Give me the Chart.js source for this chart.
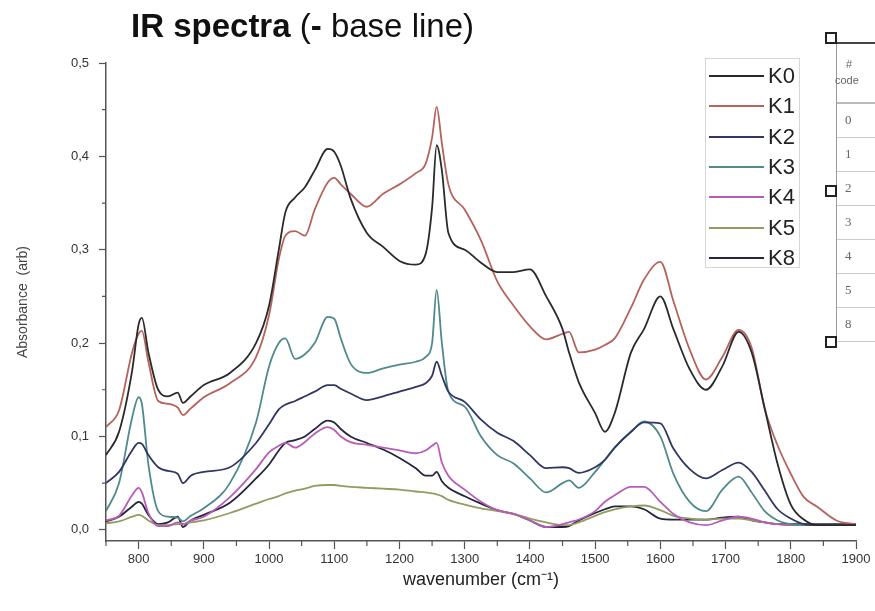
<!DOCTYPE html>
<html>
<head>
<meta charset="utf-8">
<script src="https://cdn.jsdelivr.net/npm/chart.js@4.4.1/dist/chart.umd.min.js"></script>
<style>
  body { margin: 0; background: #fff; }
  #wrap { position: relative; width: 875px; height: 611px; overflow: hidden; font-family: "Liberation Sans", Arial, sans-serif; }
  #chart { position: absolute; left: 0; top: 0; }
  #title { position: absolute; left: 131px; top: 7px; font-size: 33px; color: #111; white-space: nowrap; }
  #title b { font-weight: bold; }
  #legend { position: absolute; left: 705px; top: 58px; width: 95px; height: 210px; border: 1px solid #d6d6d6; box-sizing: border-box; }
  .item { position: absolute; left: 2px; height: 30px; width: 92px; }
  .item .swatch { position: absolute; left: 1px; top: 14px; width: 55px; height: 2px; }
  .item .lbl { position: absolute; left: 60px; top: 1px; font-size: 22px; color: #222; line-height: 28px; }
  #table { position: absolute; left: 836px; top: 42px; width: 60px; height: 300px; border-left: 1px solid #999; }
  #table .top { position: absolute; left: 0; top: 0; width: 60px; border-top: 2px solid #444; }
  #table .row { position: absolute; left: 0; width: 60px; border-bottom: 1px solid #ccc; color: #666; font-family: "Liberation Serif", serif; font-size: 13px; }
  #table .row span { position: absolute; left: 8px; }
  .handle { position: absolute; width: 8px; height: 8px; border: 2px solid #222; background: #fff; }
</style>
</head>
<body>
<div id="wrap">
  <canvas id="chart" width="875" height="611"></canvas>
  <div id="title"><b>IR spectra</b> (<b>-</b> base line)</div>
  <div id="legend"></div>
  <div id="table"></div>
</div>
<script>
// ---------------------------------------------------------
// Data (absorbance vs wavenumber)
// ---------------------------------------------------------
const wavenumbers = [750, 770, 790, 800, 805, 815, 830, 845, 860, 868, 880, 900, 940, 980, 1000, 1015, 1025, 1040, 1055, 1070, 1090, 1100, 1110, 1125, 1150, 1175, 1200, 1225, 1240, 1250, 1257, 1265, 1275, 1300, 1325, 1350, 1375, 1400, 1425, 1450, 1460, 1475, 1500, 1515, 1530, 1555, 1575, 1600, 1620, 1645, 1670, 1695, 1720, 1740, 1760, 1780, 1800, 1820, 1840, 1870, 1900];

const k0 = [0.080, 0.105, 0.170, 0.220, 0.227, 0.190, 0.150, 0.143, 0.147, 0.136, 0.143, 0.155, 0.168, 0.200, 0.240, 0.300, 0.340, 0.356, 0.367, 0.385, 0.408, 0.405, 0.390, 0.355, 0.318, 0.303, 0.288, 0.284, 0.295, 0.345, 0.412, 0.385, 0.318, 0.300, 0.286, 0.276, 0.276, 0.279, 0.250, 0.215, 0.190, 0.158, 0.125, 0.105, 0.125, 0.190, 0.215, 0.250, 0.215, 0.172, 0.150, 0.175, 0.212, 0.190, 0.130, 0.070, 0.027, 0.011, 0.005, 0.005, 0.005];
const k1 = [0.110, 0.128, 0.190, 0.210, 0.213, 0.180, 0.138, 0.135, 0.131, 0.123, 0.130, 0.142, 0.157, 0.185, 0.230, 0.290, 0.315, 0.320, 0.315, 0.343, 0.372, 0.377, 0.370, 0.360, 0.346, 0.360, 0.370, 0.382, 0.392, 0.420, 0.453, 0.414, 0.370, 0.343, 0.310, 0.266, 0.240, 0.218, 0.204, 0.210, 0.212, 0.190, 0.193, 0.198, 0.205, 0.238, 0.268, 0.287, 0.245, 0.193, 0.161, 0.185, 0.214, 0.195, 0.130, 0.090, 0.060, 0.035, 0.025, 0.010, 0.006];
const k2 = [0.050, 0.062, 0.085, 0.093, 0.092, 0.080, 0.067, 0.063, 0.060, 0.050, 0.058, 0.062, 0.067, 0.093, 0.113, 0.129, 0.134, 0.138, 0.143, 0.148, 0.155, 0.155, 0.151, 0.146, 0.139, 0.143, 0.148, 0.153, 0.157, 0.165, 0.180, 0.165, 0.148, 0.137, 0.118, 0.104, 0.095, 0.080, 0.066, 0.067, 0.066, 0.061, 0.067, 0.075, 0.088, 0.105, 0.115, 0.114, 0.087, 0.065, 0.055, 0.064, 0.072, 0.062, 0.042, 0.022, 0.012, 0.006, 0.005, 0.005, 0.005];
const k3 = [0.020, 0.050, 0.120, 0.142, 0.135, 0.070, 0.020, 0.014, 0.013, 0.009, 0.015, 0.023, 0.050, 0.115, 0.175, 0.200, 0.205, 0.183, 0.188, 0.200, 0.228, 0.226, 0.205, 0.178, 0.168, 0.173, 0.177, 0.180, 0.185, 0.200, 0.257, 0.200, 0.148, 0.132, 0.100, 0.080, 0.071, 0.055, 0.040, 0.050, 0.053, 0.045, 0.062, 0.075, 0.088, 0.105, 0.116, 0.100, 0.060, 0.030, 0.020, 0.043, 0.057, 0.040, 0.020, 0.010, 0.006, 0.005, 0.005, 0.005, 0.005];
const k4 = [0.010, 0.015, 0.037, 0.045, 0.040, 0.018, 0.004, 0.004, 0.008, 0.006, 0.010, 0.014, 0.035, 0.065, 0.083, 0.090, 0.093, 0.088, 0.094, 0.103, 0.110, 0.107, 0.100, 0.094, 0.091, 0.088, 0.085, 0.082, 0.085, 0.090, 0.093, 0.072, 0.058, 0.043, 0.030, 0.021, 0.017, 0.010, 0.003, 0.006, 0.008, 0.011, 0.020, 0.030, 0.037, 0.046, 0.046, 0.030, 0.017, 0.008, 0.005, 0.010, 0.014, 0.012, 0.008, 0.006, 0.005, 0.005, 0.005, 0.005, 0.006];
const k5 = [0.007, 0.009, 0.014, 0.016, 0.015, 0.010, 0.005, 0.005, 0.006, 0.006, 0.008, 0.010, 0.018, 0.028, 0.033, 0.036, 0.039, 0.042, 0.044, 0.047, 0.048, 0.048, 0.047, 0.046, 0.045, 0.044, 0.043, 0.041, 0.040, 0.039, 0.038, 0.036, 0.032, 0.027, 0.023, 0.020, 0.017, 0.012, 0.008, 0.005, 0.005, 0.008, 0.015, 0.019, 0.022, 0.025, 0.026, 0.021, 0.015, 0.012, 0.011, 0.012, 0.012, 0.010, 0.008, 0.006, 0.005, 0.005, 0.005, 0.005, 0.005];
const k8 = [0.009, 0.014, 0.025, 0.030, 0.028, 0.016, 0.006, 0.008, 0.014, 0.003, 0.010, 0.016, 0.029, 0.055, 0.070, 0.085, 0.093, 0.096, 0.100, 0.108, 0.117, 0.115, 0.108, 0.100, 0.093, 0.086, 0.077, 0.066, 0.058, 0.058, 0.062, 0.052, 0.045, 0.036, 0.028, 0.021, 0.017, 0.010, 0.003, 0.003, 0.004, 0.010, 0.018, 0.022, 0.025, 0.025, 0.022, 0.012, 0.011, 0.011, 0.011, 0.013, 0.014, 0.010, 0.008, 0.006, 0.006, 0.006, 0.006, 0.006, 0.006];

const seriesNames = ["K0", "K1", "K2", "K3", "K4", "K5", "K8"];
const seriesValues = [k0, k1, k2, k3, k4, k5, k8];
const seriesColors = ["#2a2a2a", "#b5635c", "#313663", "#4f8a8c", "#b85cba", "#939c60", "#25253c"];

const xTicks = [800, 900, 1000, 1100, 1200, 1300, 1400, 1500, 1600, 1700, 1800, 1900];
const xMinorTicks = [750, 850, 950, 1050, 1150, 1250, 1350, 1450, 1550, 1650, 1750, 1850];
const yTicks = [0, 0.1, 0.2, 0.3, 0.4, 0.5];
const yMinorTicks = [0.05, 0.15, 0.25, 0.35, 0.45];

// table fragment on the right of the slide
const tableCodes = ["0", "1", "2", "3", "4", "5", "8"];

// ---------------------------------------------------------
// Minor ticks (shorter, no labels)
// ---------------------------------------------------------
const minorTicks = {
  id: "minorTicks",
  afterDraw(chart) {
    const { ctx, chartArea, scales } = chart;
    ctx.save();
    ctx.strokeStyle = "#555";
    ctx.lineWidth = 1.2;
    ctx.beginPath();
    xMinorTicks.forEach(v => {
      const px = scales.x.getPixelForValue(v);
      ctx.moveTo(px, chartArea.bottom);
      ctx.lineTo(px, chartArea.bottom + 5);
    });
    yMinorTicks.forEach(v => {
      const py = scales.y.getPixelForValue(v);
      ctx.moveTo(chartArea.left, py);
      ctx.lineTo(chartArea.left - 4, py);
    });
    ctx.stroke();
    ctx.restore();
  }
};

const datasets = seriesNames.map((name, i) => ({
  label: name,
  data: wavenumbers.map((w, j) => ({ x: w, y: seriesValues[i][j] })),
  borderColor: seriesColors[i],
  borderWidth: 1.8,
  pointRadius: 0,
  cubicInterpolationMode: "monotone",
  fill: false
}));

new Chart(document.getElementById("chart"), {
  type: "line",
  data: { datasets },
  options: {
    responsive: false,
    animation: false,
    layout: { padding: { top: 63, right: 19, left: 0, bottom: 0 } },
    plugins: { legend: { display: false }, tooltip: { enabled: false } },
    scales: {
      x: {
        type: "linear",
        min: 750,
        max: 1900,
        afterFit: s => { s.height = 70; },
        afterBuildTicks: s => { s.ticks = xTicks.map(v => ({ value: v })); },
        grid: { drawOnChartArea: false, drawTicks: true, tickLength: 8, color: "#555", tickWidth: 1.2 },
        border: { display: true, color: "#555", width: 1.5 },
        ticks: {
          color: "#333",
          padding: 3,
          maxRotation: 0,
          font: { family: "'Liberation Sans Narrow', 'Arial Narrow', 'Liberation Sans', sans-serif", size: 13 },
          callback: v => String(v)
        },
        title: {
          display: true,
          text: "wavenumber (cm\u207B\u00B9)",
          color: "#222",
          padding: { top: 0, bottom: 20 },
          font: { family: "'Liberation Sans Narrow', 'Liberation Sans', sans-serif", size: 18 }
        }
      },
      y: {
        min: -0.012,
        max: 0.5,
        afterFit: s => { s.width = 106; },
        afterBuildTicks: s => { s.ticks = yTicks.map(v => ({ value: v })); },
        grid: { drawOnChartArea: false, drawTicks: true, tickLength: 7, color: "#555", tickWidth: 1.2 },
        border: { display: true, color: "#555", width: 1.5 },
        ticks: {
          color: "#333",
          padding: 10,
          font: { family: "'Liberation Sans', sans-serif", size: 13 },
          callback: v => v.toFixed(1).replace(".", ",")
        },
        title: {
          display: true,
          text: "Absorbance  (arb)",
          color: "#444",
          padding: { top: 15 },
          font: { family: "'Liberation Sans', sans-serif", size: 14 }
        }
      }
    }
  },
  plugins: [minorTicks]
});

// ---------------------------------------------------------
// Legend (inside the plot, top right)
// ---------------------------------------------------------
const legendBox = document.getElementById("legend");
seriesNames.forEach((name, i) => {
  const item = document.createElement("div");
  item.className = "item";
  item.style.top = (2 + i * 30.3) + "px";
  item.innerHTML = `<div class="swatch" style="background:${seriesColors[i]}"></div><div class="lbl">${name}</div>`;
  legendBox.appendChild(item);
});

// ---------------------------------------------------------
// Clipped table on the right edge
// ---------------------------------------------------------
const table = document.getElementById("table");
table.insertAdjacentHTML("beforeend", `<div class="top"></div>`);
table.insertAdjacentHTML("beforeend",
  `<div class="row" style="top:2px;height:58px;border-bottom:2px solid #bbb;font-family:'Liberation Sans',sans-serif;font-size:11px;">
     <span style="left:9px;top:14px;">#</span><span style="left:-2px;top:30px;">code</span></div>`);
tableCodes.forEach((c, i) => {
  table.insertAdjacentHTML("beforeend",
    `<div class="row" style="top:${62 + i * 34}px;height:33px;"><span style="top:8px;">${c}</span></div>`);
});
[[825, 32], [825, 185], [825, 336]].forEach(([l, t]) => {
  document.getElementById("wrap").insertAdjacentHTML("beforeend", `<div class="handle" style="left:${l}px;top:${t}px;"></div>`);
});
</script>
</body>
</html>
